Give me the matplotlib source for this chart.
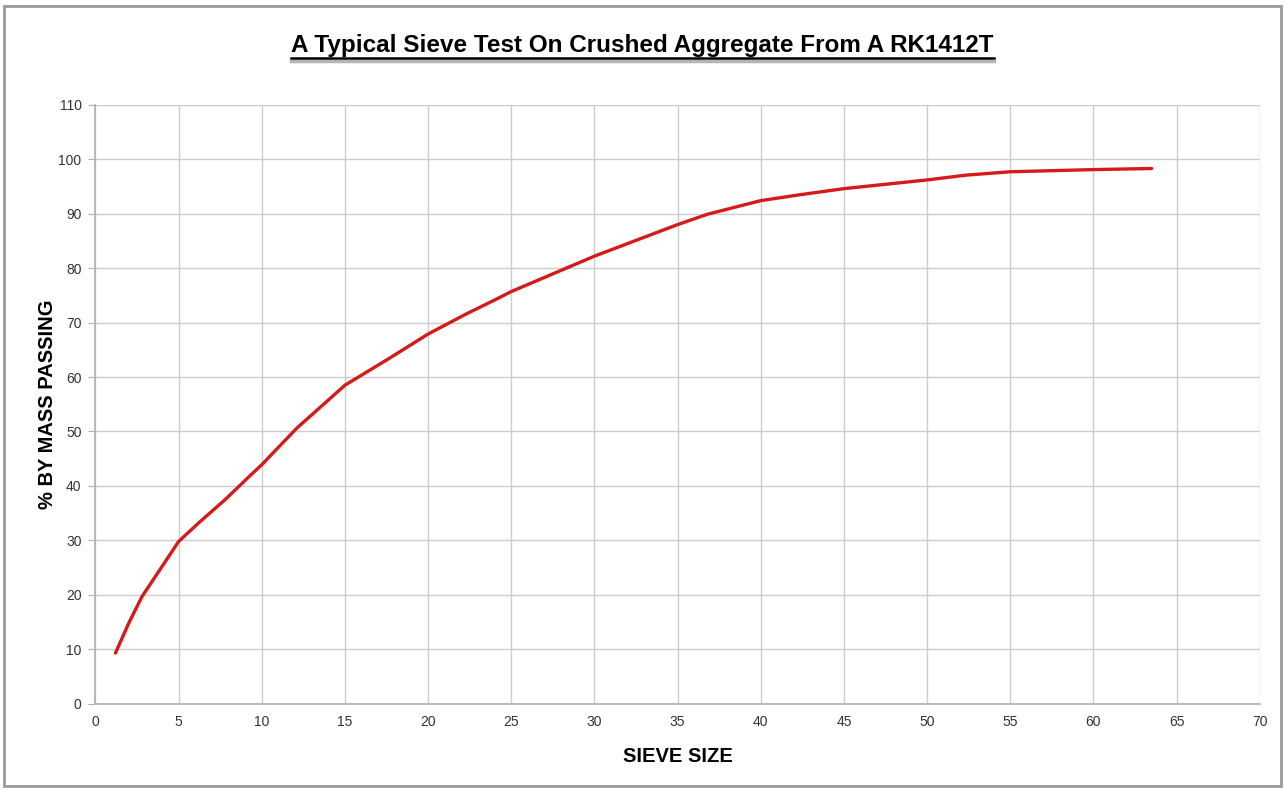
import matplotlib.pyplot as plt
from matplotlib.lines import Line2D
from matplotlib.patches import Rectangle

# Sieve test data
sieve_size = [1.2, 2.0, 2.8, 4.0, 5.0, 6.2, 7.8, 9.3, 10.0, 12.1, 15.0, 17.7,
              20.0, 22.3, 24.1, 25.0, 30.0, 35.0, 36.8, 40.0, 42.4, 45.0,
              50.0, 52.4, 55.0, 60.0, 63.5]
pct_passing = [9.3, 14.8, 19.7, 25.2, 29.8, 33.2, 37.5, 41.9, 43.9, 50.6, 58.5, 63.5,
               67.9, 71.6, 74.3, 75.7, 82.2, 88.0, 89.9, 92.4, 93.5, 94.6,
               96.2, 97.1, 97.7, 98.1, 98.3]

x_ticks = list(range(0, 71, 5))
y_ticks = list(range(0, 111, 10))

plt.rcParams['font.family'] = ['Liberation Sans', 'DejaVu Sans']

fig = plt.figure(figsize=(12.85, 7.88), dpi=100)
ax = fig.add_axes([0.0743, 0.107, 0.906, 0.76])

ax.plot(sieve_size, pct_passing, color='#d61a1a', linewidth=2.4,
        solid_capstyle='round', solid_joinstyle='round', zorder=3)

ax.set_xlim(0, 70)
ax.set_ylim(0, 110)
ax.set_xticks(x_ticks)
ax.set_yticks(y_ticks)
ax.grid(True, color='#cccccc', linewidth=1.0)
ax.set_axisbelow(True)

for side in ['top', 'right']:
    ax.spines[side].set_visible(False)
for side in ['left', 'bottom']:
    ax.spines[side].set_color('#b0b0b0')
    ax.spines[side].set_linewidth(1.2)

ax.tick_params(axis='y', length=5, color='#b0b0b0', labelsize=10, labelcolor='#333333', pad=5)
ax.tick_params(axis='x', length=0, labelsize=10, labelcolor='#333333', pad=8)

ax.set_xlabel('SIEVE SIZE', fontsize=14.5, fontweight='bold')
ax.set_ylabel('% BY MASS PASSING', fontsize=14.5, fontweight='bold')
ax.xaxis.set_label_coords(0.5, -0.073)
ax.yaxis.set_label_coords(-0.033, 0.5)

title = fig.text(0.5, 0.942, 'A Typical Sieve Test On Crushed Aggregate From A RK1412T',
                 ha='center', va='center', fontsize=17.5, fontweight='bold',
                 family=['Liberation Sans Narrow', 'Liberation Sans', 'DejaVu Sans'])

# Underline the title, with a soft grey shadow below it
fig.canvas.draw()
bb = title.get_window_extent().transformed(fig.transFigure.inverted())
uy = bb.y0 - 0.001
fig.add_artist(Line2D([bb.x0, bb.x1], [uy - 0.004, uy - 0.004],
                      transform=fig.transFigure, color='#b5b5b5', linewidth=2.5))
fig.add_artist(Line2D([bb.x0, bb.x1], [uy, uy],
                      transform=fig.transFigure, color='black', linewidth=1.8))

# Outer frame of the chart
fig.add_artist(Rectangle((0.003, 0.003), 0.994, 0.99, transform=fig.transFigure,
                         fill=False, edgecolor='#9a9a9a', linewidth=2))

fig.savefig('out.png', dpi=100)
